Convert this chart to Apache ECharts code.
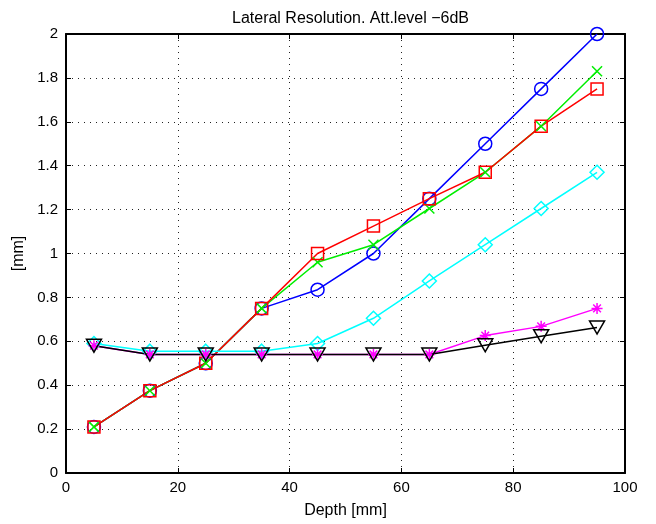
<!DOCTYPE html>
<html>
<head>
<meta charset="utf-8">
<script src="https://cdn.jsdelivr.net/npm/echarts@6/dist/echarts.min.js"></script>
<style>
  html, body { margin: 0; padding: 0; background: #fff; }
  #main { width: 656px; height: 524px; }
</style>
</head>
<body>
<div id="main"></div>
<script>
// depth values (mm)
var depth = [5, 15, 25, 35, 45, 55, 65, 75, 85, 95];
// lateral resolution per curve (mm)
var blueVals    = [0.21, 0.375, 0.5, 0.75, 0.835, 1.0, 1.25, 1.5, 1.75, 2.0];
var greenVals   = [0.21, 0.375, 0.5, 0.75, 0.96, 1.04, 1.205, 1.37, 1.58, 1.83];
var redVals     = [0.21, 0.375, 0.5, 0.75, 1.0, 1.125, 1.25, 1.37, 1.58, 1.75];
var cyanVals    = [0.59, 0.555, 0.555, 0.555, 0.59, 0.705, 0.875, 1.04, 1.205, 1.37];
var magentaVals = [0.58, 0.54, 0.54, 0.54, 0.54, 0.54, 0.54, 0.626, 0.668, 0.75];
var blackVals   = [0.58, 0.54, 0.54, 0.54, 0.54, 0.54, 0.54, 0.582, 0.623, 0.663];

var FONT = 'Liberation Sans';

function pairs(vals) {
    var out = [];
    for (var i = 0; i < depth.length; i++) {
        out.push([depth[i], vals[i]]);
    }
    return out;
}

function curve(vals, color, symbol, size) {
    return {
        type: 'line',
        data: pairs(vals),
        symbol: symbol,
        symbolSize: size,
        showAllSymbol: true,
        lineStyle: { color: color, width: 1.5 },
        itemStyle: { color: 'rgba(0,0,0,0)', borderColor: color, borderWidth: 1.5 },
        emphasis: { disabled: true },
        animation: false
    };
}

var myChart = echarts.init(document.getElementById('main'));

var tickStyle = { show: true, inside: true, length: 5, lineStyle: { color: '#000', width: 1 } };
var gridDots = { show: true, lineStyle: { color: '#222', width: 1, type: [1, 5] } };
var labelStyle = { color: '#000', fontFamily: FONT, fontSize: 15 };

option = {
    backgroundColor: '#fff',
    title: {
        text: 'Lateral Resolution. Att.level \u22126dB',
        left: 345.5,
        top: 6,
        textAlign: 'center',
        textStyle: { color: '#000', fontFamily: FONT, fontSize: 16, fontWeight: 'normal' }
    },
    grid: { left: 66, right: 31, top: 34, bottom: 48, show: false },
    xAxis: [
        {
            type: 'value', min: 0, max: 100, interval: 20,
            name: 'Depth [mm]', nameLocation: 'middle', nameGap: 30,
            nameTextStyle: { color: '#000', fontFamily: FONT, fontSize: 16 },
            axisLine: { show: true, onZero: false, lineStyle: { color: '#000', width: 2 } },
            axisTick: tickStyle,
            axisLabel: Object.assign({ margin: 7 }, labelStyle),
            splitLine: gridDots
        },
        {
            type: 'value', min: 0, max: 100, interval: 20, position: 'top',
            axisLine: { show: true, onZero: false, lineStyle: { color: '#000', width: 2 } },
            axisTick: tickStyle,
            axisLabel: { show: false },
            splitLine: { show: false }
        }
    ],
    yAxis: [
        {
            type: 'value', min: 0, max: 2, interval: 0.2,
            name: '[mm]', nameLocation: 'middle', nameGap: 38,
            nameTextStyle: { color: '#000', fontFamily: FONT, fontSize: 16 },
            axisLine: { show: true, onZero: false, lineStyle: { color: '#000', width: 2 } },
            axisTick: tickStyle,
            axisLabel: Object.assign({ margin: 8, formatter: function (v) { return String(+v.toFixed(1)); } }, labelStyle),
            splitLine: gridDots
        },
        {
            type: 'value', min: 0, max: 2, interval: 0.2, position: 'right',
            axisLine: { show: true, onZero: false, lineStyle: { color: '#000', width: 2 } },
            axisTick: tickStyle,
            axisLabel: { show: false },
            splitLine: { show: false }
        }
    ],
    series: [
        curve(blueVals, '#0000ff', 'circle', 13),
        curve(greenVals, '#00ee00', 'path://M0,0L10,10M0,10L10,0', 10),
        curve(redVals, '#ff0000', 'rect', 12),
        curve(cyanVals, '#00ffff', 'diamond', 14),
        curve(magentaVals, '#ff00ff', 'path://M5,0L5,10M0,5L10,5M1.5,1.5L8.5,8.5M1.5,8.5L8.5,1.5', 11),
        curve(blackVals, '#000000', 'path://M0,0L10,0L5,8.5Z', [15, 13])
    ]
};
// 使用刚指定的配置项和数据显示图表。
myChart.setOption(option);
</script>
</body>
</html>
